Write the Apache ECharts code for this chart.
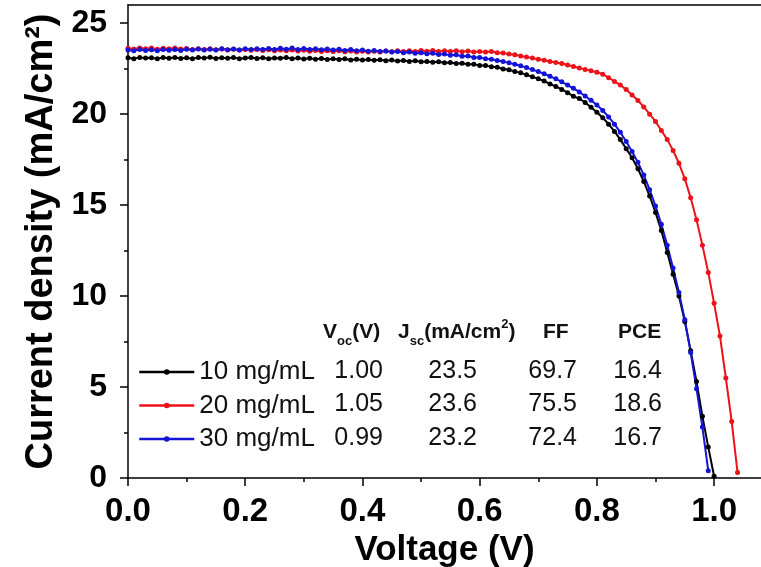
<!DOCTYPE html>
<html><head><meta charset="utf-8">
<script src="https://cdn.jsdelivr.net/npm/echarts@6/dist/echarts.min.js"></script>
<style>html,body{margin:0;padding:0;background:#fff}#c{width:761px;height:567px}</style>
</head><body><div id="c"></div>
<script>
const voltage = [
0.00,0.01,0.02,0.03,0.04,0.05,0.06,0.07,0.08,0.09,
0.10,0.11,0.12,0.13,0.14,0.15,0.16,0.17,0.18,0.19,
0.20,0.21,0.22,0.23,0.24,0.25,0.26,0.27,0.28,0.29,
0.30,0.31,0.32,0.33,0.34,0.35,0.36,0.37,0.38,0.39,
0.40,0.41,0.42,0.43,0.44,0.45,0.46,0.47,0.48,0.49,
0.50,0.51,0.52,0.53,0.54,0.55,0.56,0.57,0.58,0.59,
0.60,0.61,0.62,0.63,0.64,0.65,0.66,0.67,0.68,0.69,
0.70,0.71,0.72,0.73,0.74,0.75,0.76,0.77,0.78,0.79,
0.80,0.81,0.82,0.83,0.84,0.85,0.86,0.87,0.88,0.89,
0.90,0.91,0.92,0.93,0.94,0.95,0.96,0.97,0.98,0.99,
1.00,1.01,1.02,1.03,1.04];

// 10 mg/mL (black)
const j10 = [
23.10,23.05,23.12,23.08,23.10,23.04,23.11,23.07,23.12,23.06,
23.10,23.05,23.11,23.08,23.13,23.06,23.10,23.07,23.12,23.05,
23.09,23.11,23.06,23.10,23.04,23.09,23.07,23.11,23.05,23.08,
23.03,23.07,23.02,23.06,23.01,23.05,23.00,23.04,22.98,23.02,
22.97,23.00,22.96,22.99,22.94,22.97,22.92,22.95,22.90,22.93,
22.88,22.90,22.85,22.88,22.82,22.84,22.78,22.80,22.74,22.75,
22.68,22.68,22.60,22.58,22.48,22.44,22.34,22.27,22.16,22.06,
21.94,21.82,21.66,21.52,21.36,21.18,20.98,20.86,20.64,20.38,
20.10,19.80,19.45,19.05,18.60,18.10,17.60,17.00,16.30,15.50,
14.60,13.60,12.40,11.20,10.00,8.60,7.00,5.30,3.40,1.70,
0.10];

// 20 mg/mL (red)
const j20 = [
23.62,23.58,23.64,23.60,23.63,23.57,23.62,23.59,23.64,23.58,
23.61,23.56,23.60,23.55,23.59,23.54,23.58,23.53,23.57,23.52,
23.56,23.51,23.55,23.50,23.54,23.49,23.53,23.48,23.52,23.47,
23.51,23.46,23.50,23.45,23.49,23.44,23.48,23.43,23.47,23.42,
23.46,23.41,23.46,23.42,23.47,23.43,23.48,23.44,23.49,23.45,
23.50,23.46,23.50,23.45,23.49,23.44,23.48,23.43,23.47,23.42,
23.45,23.42,23.44,23.38,23.36,23.30,23.26,23.20,23.14,23.08,
23.02,22.96,22.90,22.84,22.78,22.70,22.62,22.54,22.46,22.38,
22.30,22.20,22.00,21.80,21.60,21.35,21.05,20.75,20.40,20.00,
19.60,19.10,18.60,18.00,17.30,16.45,15.40,14.20,12.80,11.30,
9.60,7.80,5.50,3.10,0.30];

// 30 mg/mL (blue)
const j30 = [
23.52,23.48,23.55,23.50,23.54,23.49,23.56,23.51,23.55,23.50,
23.57,23.52,23.58,23.53,23.57,23.52,23.59,23.54,23.58,23.53,
23.60,23.55,23.60,23.56,23.61,23.55,23.62,23.57,23.63,23.56,
23.61,23.55,23.60,23.54,23.58,23.52,23.57,23.50,23.55,23.48,
23.52,23.46,23.50,23.44,23.47,23.41,23.45,23.38,23.42,23.35,
23.38,23.32,23.35,23.28,23.30,23.24,23.26,23.18,23.20,23.12,
23.12,23.05,23.02,22.95,22.90,22.82,22.74,22.66,22.56,22.45,
22.34,22.22,22.08,21.94,21.78,21.60,21.42,21.22,21.00,20.76,
20.50,20.20,19.85,19.45,19.00,18.50,17.95,17.35,16.65,15.85,
14.95,13.95,12.80,11.55,10.20,8.70,6.90,4.90,2.80,0.40];

const seriesNames = ['10 mg/mL', '20 mg/mL', '30 mg/mL'];
const seriesColors = ['#000000', '#ec1218', '#1414d8'];
const vocVals = ['1.00', '1.05', '0.99'];
const jscVals = ['23.5', '23.6', '23.2'];
const ffVals = ['69.7', '75.5', '72.4'];
const pceVals = ['16.4', '18.6', '16.7'];
const xMajorTicks = [0, 0.2, 0.4, 0.6, 0.8, 1.0];
const xMinorTicks = [0.1, 0.3, 0.5, 0.7, 0.9];
const yMajorTicks = [0, 5, 10, 15, 20, 25];
const yMinorTicks = [2.5, 7.5, 12.5, 17.5, 22.5];

const FONT = '"Liberation Sans", Arial, sans-serif';
const axisLineStyle = { color: '#000', width: 1.5 };

const chart = echarts.init(document.getElementById('c'), null, { renderer: 'canvas' });

function mkSeries(name, color, ys) {
  return {
    name: name, type: 'line', xAxisIndex: 0, yAxisIndex: 0,
    data: ys.map((y, i) => [voltage[i], y]),
    symbol: 'circle', symbolSize: 5, showSymbol: true,
    lineStyle: { color: color, width: 2 },
    itemStyle: { color: color },
    emphasis: { disabled: true },
    animation: false
  };
}

const rowsY = [371, 404.5, 438];
const graphics = [];
const colDefs = [[vocVals, 383], [jscVals, 477], [ffVals, 577], [pceVals, 662]];
colDefs.forEach(([vals, xr]) => {
  vals.forEach((t, i) => {
    graphics.push({
      type: 'text', x: xr, y: rowsY[i],
      style: { text: t, fill: '#111', font: '25px ' + FONT, textAlign: 'right', textVerticalAlign: 'middle' }
    });
  });
});
const hdrRich = {
  b: { fontFamily: FONT, fontWeight: 'bold', fontSize: 21, color: '#111' },
  s: { fontFamily: FONT, fontWeight: 'bold', fontSize: 13, color: '#111', padding: [18, 0, 0, 0] },
  u: { fontFamily: FONT, fontWeight: 'bold', fontSize: 13, color: '#111', padding: [0, 0, 16, 0] }
};
const headers = [
  ['{b|V}{s|oc}{b|(V)}', 323],
  ['{b|J}{s|sc}{b|(mA/cm}{u|2}{b|)}', 398],
  ['{b|FF}', 543],
  ['{b|PCE}', 618]
];
headers.forEach(([t, xl]) => {
  graphics.push({
    type: 'text', x: xl, y: 332,
    style: { text: t, rich: hdrRich, font: 'bold 21px ' + FONT, fill: '#111', textAlign: 'left', textVerticalAlign: 'middle' }
  });
});

const option = {
  backgroundColor: '#fff',
  animation: false,
  grid: { left: 128, right: 0, top: 5, bottom: 89, containLabel: false, outerBoundsMode: 'none' },
  xAxis: [
    {
      type: 'value', min: 0, max: 1.08, position: 'bottom',
      axisLine: { show: true, onZero: false, lineStyle: axisLineStyle },
      axisTick: { show: true, customValues: xMajorTicks, length: 8, lineStyle: axisLineStyle },
      axisLabel: { customValues: xMajorTicks, formatter: v => v.toFixed(1), fontFamily: FONT, fontWeight: 'bold', fontSize: 33, color: '#000', margin: 17 },
      splitLine: { show: false },
      name: 'Voltage (V)', nameLocation: 'middle', nameGap: 36,
      nameTextStyle: { fontFamily: FONT, fontWeight: 'bold', fontSize: 35, color: '#000' }
    },
    {
      type: 'value', min: 0, max: 1.08, position: 'bottom',
      axisLine: { show: false },
      axisTick: { show: true, customValues: xMinorTicks, length: 4, lineStyle: axisLineStyle },
      axisLabel: { show: false }, splitLine: { show: false }
    },
    {
      type: 'value', min: 0, max: 1.08, position: 'top',
      axisLine: { show: true, onZero: false, lineStyle: axisLineStyle },
      axisTick: { show: false }, axisLabel: { show: false }, splitLine: { show: false }
    }
  ],
  yAxis: [
    {
      type: 'value', min: 0, max: 26, position: 'left',
      axisLine: { show: true, onZero: false, lineStyle: axisLineStyle },
      axisTick: { show: true, customValues: yMajorTicks, length: 8, lineStyle: axisLineStyle },
      axisLabel: { customValues: yMajorTicks, fontFamily: FONT, fontWeight: 'bold', fontSize: 32, color: '#000', margin: 21 },
      splitLine: { show: false },
      name: 'Current density (mA/cm²)', nameLocation: 'middle', nameGap: 65,
      nameTextStyle: { fontFamily: FONT, fontWeight: 'bold', fontSize: 38, color: '#000' }
    },
    {
      type: 'value', min: 0, max: 26, position: 'left',
      axisLine: { show: false },
      axisTick: { show: true, customValues: yMinorTicks, length: 4, lineStyle: axisLineStyle },
      axisLabel: { show: false }, splitLine: { show: false }
    }
  ],
  legend: {
    orient: 'vertical', left: 133, top: 354,
    itemWidth: 55, itemHeight: 7, itemGap: 7.5,
    lineStyle: { width: 2.5 },
    textStyle: { fontFamily: FONT, fontSize: 26, color: '#111', lineHeight: 26 },
    data: seriesNames,
    selectedMode: false
  },
  series: [
    mkSeries(seriesNames[0], seriesColors[0], j10),
    mkSeries(seriesNames[1], seriesColors[1], j20),
    mkSeries(seriesNames[2], seriesColors[2], j30)
  ],
  graphic: graphics
};
chart.setOption(option);
</script>
</body></html>
